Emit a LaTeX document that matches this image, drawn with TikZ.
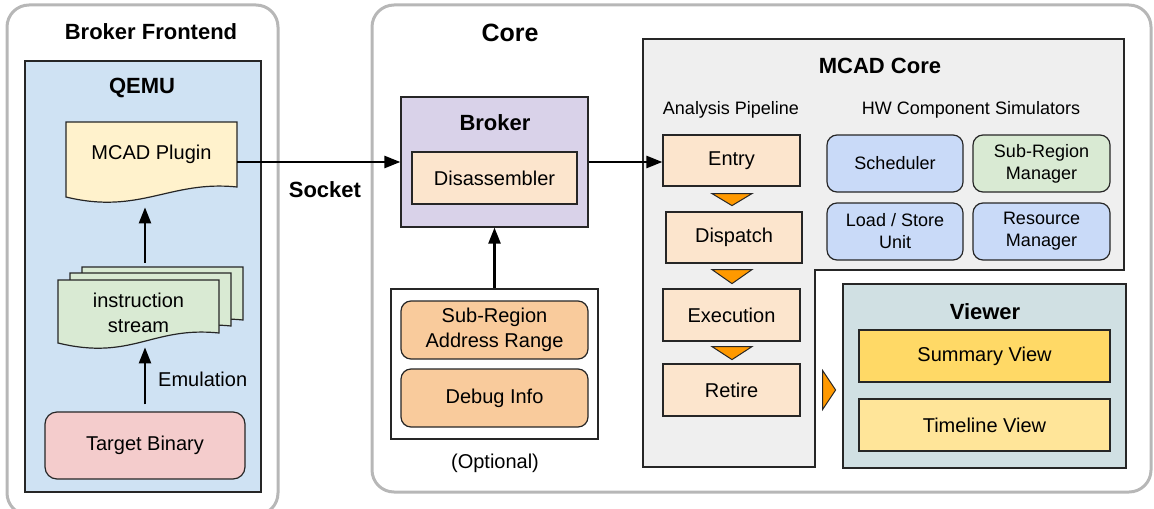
\documentclass[tikz,border=0pt]{standalone}
\usepackage{fontspec}
\setmainfont{Liberation Sans}
\usetikzlibrary{arrows.meta,calc}

\definecolor{framegray}{HTML}{B7B7B7}
\definecolor{qemublue}{HTML}{CFE2F3}
\definecolor{plugyellow}{HTML}{FFF2CC}
\definecolor{streamgreen}{HTML}{D9EAD3}
\definecolor{targetred}{HTML}{F4CCCC}
\definecolor{brokerpurple}{HTML}{D9D2E9}
\definecolor{peach}{HTML}{FCE5CD}
\definecolor{apricot}{HTML}{F9CB9C}
\definecolor{mcadgray}{HTML}{EFEFEF}
\definecolor{hwblue}{HTML}{C9DAF8}
\definecolor{viewerblue}{HTML}{D0E0E3}
\definecolor{summaryyellow}{HTML}{FFD966}
\definecolor{timelineyellow}{HTML}{FFE599}
\definecolor{pipeorange}{HTML}{FF9900}

% page with a wavy bottom edge: north west corner, width, height, fill
\newcommand{\docshape}[4]{%
  \draw[box, fill=#4] (#1) -- ++(#2,0) -- ++(0,#3)
    .. controls +(-67,-7) and +(74,18) .. ++(-#2,10) -- cycle;}

\begin{document}
\begin{tikzpicture}[x=0.5pt, y=-0.5pt,
    wh/.style 2 args={minimum width=#1*0.5pt, minimum height=#2*0.5pt},
    frame/.style={draw=framegray, line width=1.5pt, rounded corners=11pt, inner sep=0pt},
    lbl/.style={inner sep=0pt, align=center, font=\fontsize{10}{12.5}\selectfont},
    box/.style={lbl, draw=black!85, line width=0.6pt},
    rbox/.style={box, rounded corners=5pt},
    hw/.style={rbox, font=\fontsize{9}{11}\selectfont},
    title/.style={font=\fontsize{11}{13}\selectfont\bfseries},
    head/.style={font=\fontsize{9}{11}\selectfont},
    arrow/.style={-{Triangle[length=8pt,width=6pt]}, line width=1.2pt},
    tri/.style={draw=black!85, line width=0.5pt, fill=pipeorange}]
  \useasboundingbox (0,0) rectangle (1154,508);

  % outer frames
  \node[frame, wh={271}{510}] (front) at (142.5,260) {};
  \node[frame, wh={779}{487}] (core) at (761.5,248.5) {};
  \node[title] (fronttitle) at (151,32) {Broker Frontend};
  \node[title, font=\fontsize{12.5}{15}\selectfont\bfseries] (coretitle) at (510,33) {Core};

  % QEMU side
  \node[box, fill=qemublue, wh={236}{431}] (qemu) at (143,276.5) {};
  \node[title] (qemutitle) at (142,88) {QEMU};
  \docshape{82,267}{161}{53}{streamgreen}
  \docshape{70,273}{161}{53}{streamgreen}
  \docshape{58,280}{161}{53}{streamgreen}
  \node[lbl, wh={161}{53}] (stream) at (138.5,312.5) {instruction\\stream};
  \docshape{66,122}{171}{65}{plugyellow}
  \node[lbl, wh={171}{65}] (plugin) at (151.5,154.5) {MCAD Plugin};
  \node[rbox, fill=targetred, rounded corners=6pt, wh={200}{67}] (target) at (145,445.5) {Target Binary};

  \draw[arrow] ($(target.north)+(0,-7)$) -- ($(target.north |- stream.south)+(0,8)$)
    node[lbl, midway, anchor=west, xshift=6pt, yshift=-1.5pt] (emu) {Emulation};
  \draw[arrow] ($(target.north |- stream.north)+(0,-23)$) -- ($(target.north |- plugin.south)+(0,20)$);

  % broker
  \node[box, fill=brokerpurple, wh={187}{130}] (broker) at (494.5,162) {};
  \node[title] (brokertitle) at (495,123) {Broker};
  \node[box, fill=peach, wh={165}{52}] (disasm) at (494.5,178) {Disassembler};

  \node[box, fill=white, wh={207}{150}] (optional) at (494.5,364) {};
  \node[rbox, fill=apricot, wh={187}{58}] (subrange) at (494.5,330) {Sub-Region\\Address Range};
  \node[rbox, fill=apricot, wh={187}{58}] (debug) at (494.5,398) {Debug Info};
  \node[lbl] (optlabel) at (495,463) {(Optional)};

  \draw[arrow] (broker.west -| plugin.east) -- (broker.west)
    node[title, midway, xshift=3pt, yshift=-14pt] (socket) {Socket};
  \draw[arrow] (optional.north) -- (broker.south);

  % MCAD core
  \draw[box, fill=mcadgray] (643,39) -- (1124,39) -- (1124,270) -- (815,270)
    -- (815,467) -- (643,467) -- cycle;
  \node[title] (mcadtitle) at (880,66) {MCAD Core};
  \node[head] (pipetitle) at (731,110) {Analysis Pipeline};
  \node[head] (hwtitle) at (971,110) {HW Component Simulators};

  \node[box, fill=peach, wh={137}{51}] (entry) at (731.5,160.5) {Entry};
  \node[box, fill=peach, wh={136}{51}] (dispatch) at (734,237.5) {Dispatch};
  \node[box, fill=peach, wh={137}{52}] (execution) at (731.5,315) {Execution};
  \node[box, fill=peach, wh={137}{52}] (retire) at (731.5,390) {Retire};

  \draw[tri] ($(entry.south)+(-19.5,7)$) -- ++(40,0) -- ++(-20,12) -- cycle;
  \draw[tri] ($(dispatch.south)+(-22,6)$) -- ++(40,0) -- ++(-20,14) -- cycle;
  \draw[tri] ($(execution.south)+(-19.5,5)$) -- ++(40,0) -- ++(-20,13) -- cycle;
  \draw[tri] ($(retire.east)+(22,-19.5)$) -- ++(0,39) -- ++(13,-19.5) -- cycle;

  \draw[arrow] (broker.east) -- (broker.east -| entry.west);

  \node[hw, fill=hwblue, wh={136}{57}] (sched) at (895,163.5) {Scheduler};
  \node[hw, fill=streamgreen, wh={137}{57}] (srmgr) at (1041.5,163.5) {Sub-Region\\Manager};
  \node[hw, fill=hwblue, wh={136}{57}] (lsu) at (895,231.5) {Load / Store\\Unit};
  \node[hw, fill=hwblue, wh={137}{57}] (resmgr) at (1041.5,231.5) {Resource\\Manager};

  % viewer
  \node[box, fill=viewerblue, wh={283}{184}] (viewer) at (984.5,376) {};
  \node[title] (viewertitle) at (985,312) {Viewer};
  \node[box, fill=summaryyellow, wh={251}{52}] (summary) at (984.5,356) {Summary View};
  \node[box, fill=timelineyellow, wh={251}{52}] (timeline) at (984.5,425) {Timeline View};
\end{tikzpicture}
\end{document}
